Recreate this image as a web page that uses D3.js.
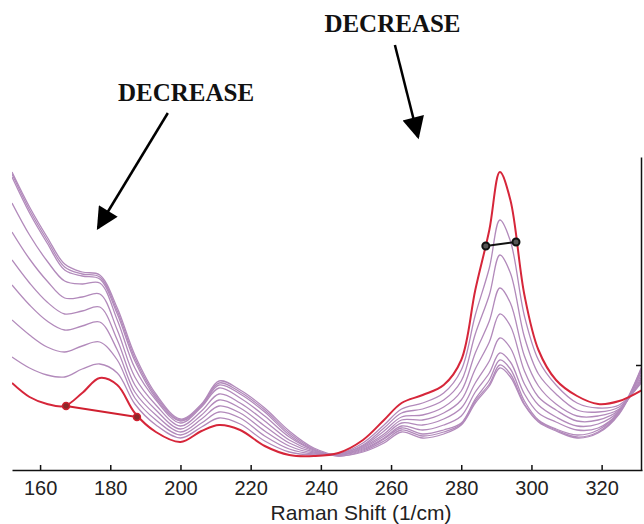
<!DOCTYPE html>
<html>
<head>
<meta charset="utf-8">
<script src="https://cdn.jsdelivr.net/npm/d3@7"></script>
<style>
  body { margin: 0; background: #fff; }
  .axis text { font-family: "Liberation Sans", Arial, sans-serif; font-size: 20px; fill: #222; }
  .axis path, .axis line { stroke: #111; stroke-width: 1.5; }
</style>
</head>
<body>
<svg id="chart" width="644" height="524"></svg>
<script>
// Raman shift grid (1/cm) the spectra were read at
var shifts = [152, 157, 162, 167, 172, 177, 182, 187, 193, 200, 206, 211, 217, 224, 231, 238, 245,
              252, 258, 263, 269, 275, 280, 284, 288, 291, 294, 298, 302, 307, 313, 319, 325, 331.5];

// intensities (a.u.) - red reference spectrum
var refSpectrum = [87, 73, 66, 64, 77, 92, 85, 57, 38, 28, 39, 45, 40, 24, 15, 14, 17,
                   30, 50, 67, 75, 85, 110, 180, 240, 298, 270, 175, 120, 90, 74, 66, 69, 80];

// purple spectra, from highest 290 peak to lowest
var spec1 = [113, 102, 95, 93, 101, 106, 97, 66, 45, 32, 43, 52, 46, 29, 18, 15, 16,
             27, 45, 61, 67, 77, 100, 155, 202, 250, 229, 154, 110, 85, 67, 62, 65, 88];
var spec2 = [150, 135, 123, 118, 124, 128, 110, 72, 50, 35, 47, 58, 52, 34, 21, 16, 16,
             25, 42, 57, 61, 70, 89, 136, 175, 215, 197, 133, 96, 76, 60, 58, 63, 90];
var spec3 = [185, 165, 149, 140, 144, 148, 120, 78, 55, 38, 51, 64, 57, 39, 24, 17, 16,
             24, 39, 53, 55, 63, 79, 117, 149, 182, 167, 114, 84, 66, 54, 54, 61, 92];
var spec4 = [210, 187, 168, 156, 159, 163, 130, 85, 60, 41, 55, 70, 62, 44, 27, 18, 15,
             23, 36, 50, 50, 57, 70, 101, 128, 156, 144, 99, 73, 60, 49, 50, 60, 94];
var spec5 = [238, 211, 189, 172, 173, 176, 140, 93, 65, 44, 59, 76, 67, 49, 30, 19, 15,
             22, 34, 47, 45, 51, 62, 87, 109, 132, 122, 86, 65, 53, 44, 46, 59, 97];
var spec6 = [267, 235, 209, 189, 186, 187, 150, 102, 70, 47, 63, 82, 72, 54, 33, 20, 15,
             21, 32, 44, 40, 45, 54, 78, 97, 117, 108, 76, 57, 48, 40, 42, 58, 100];
var spec7 = [298, 263, 233, 206, 198, 195, 162, 115, 76, 51, 66, 89, 80, 62, 39, 22, 15,
             20, 31, 42, 36, 40, 47, 71, 90, 110, 101, 69, 50, 41, 35, 40, 58, 104];
var spec8 = [296, 260, 230, 203, 196, 193, 159, 112, 74, 50, 65, 87, 78, 60, 37, 21, 14,
             19, 29, 40, 34, 38, 46, 69, 86, 105, 96, 66, 49, 40, 33, 38, 57, 103];
var spec9 = [293, 257, 227, 200, 194, 191, 156, 109, 72, 49, 64, 85, 76, 58, 35, 20, 14,
             18, 27, 38, 32, 36, 45, 67, 84, 102, 93, 65, 48, 39, 32, 37, 56, 102];

// marker pairs [shift, intensity]
var baselinePts = [[167.4, 64], [187.6, 53]];
var halfWidthPts = [[287.0, 224], [295.6, 228]];

var xTicks = [160, 180, 200, 220, 240, 260, 280, 300, 320];
var yTicks = [105];
var xLabel = "Raman Shift (1/cm)";
var noteText = "DECREASE";

var purpleSpectra = [spec9, spec8, spec7, spec6, spec5, spec4, spec3, spec2, spec1];

var svg = d3.select("#chart");

var x = d3.scaleLinear().domain([152, 331.5]).range([12, 642]);
var y = d3.scaleLinear().domain([0, 313]).range([470, 157]);

svg.append("defs").append("clipPath")
    .attr("id", "plot-clip")
    .append("rect")
    .attr("x", 12).attr("y", 140)
    .attr("width", 630).attr("height", 331);

var line = d3.line()
    .x(function (d, i) { return x(shifts[i]); })
    .y(function (d) { return y(d); })
    .curve(d3.curveCatmullRom.alpha(0.5));

var plot = svg.append("g").attr("clip-path", "url(#plot-clip)");

plot.selectAll(".spec")
    .data(purpleSpectra)
    .enter().append("path")
    .attr("class", "spec")
    .attr("d", line)
    .attr("fill", "none")
    .attr("stroke", "#b28abb")
    .attr("stroke-width", 1.3);

plot.append("path")
    .attr("d", line(refSpectrum))
    .attr("fill", "none")
    .attr("stroke", "#d6263a")
    .attr("stroke-width", 2);

// baseline marker pair (red)
var pairLine = d3.line()
    .x(function (d) { return x(d[0]); })
    .y(function (d) { return y(d[1]); });

plot.append("path")
    .attr("d", pairLine(baselinePts))
    .attr("fill", "none")
    .attr("stroke", "#d02030")
    .attr("stroke-width", 2);

plot.selectAll(".bmark")
    .data(baselinePts)
    .enter().append("circle")
    .attr("cx", function (d) { return x(d[0]); })
    .attr("cy", function (d) { return y(d[1]); })
    .attr("r", 3.5)
    .attr("fill", "#8a2a2a")
    .attr("stroke", "#d02030")
    .attr("stroke-width", 1.5);

// half width marker pair (black)
plot.append("path")
    .attr("d", pairLine(halfWidthPts))
    .attr("fill", "none")
    .attr("stroke", "#111")
    .attr("stroke-width", 2);

plot.selectAll(".hmark")
    .data(halfWidthPts)
    .enter().append("circle")
    .attr("cx", function (d) { return x(d[0]); })
    .attr("cy", function (d) { return y(d[1]); })
    .attr("r", 3.5)
    .attr("fill", "#555")
    .attr("stroke", "#111")
    .attr("stroke-width", 2);

// axes
svg.append("g")
    .attr("class", "axis")
    .attr("transform", "translate(0,470)")
    .call(d3.axisBottom(x).tickValues(xTicks).tickSizeInner(-5).tickSizeOuter(0).tickPadding(11));

svg.append("g")
    .attr("class", "axis")
    .attr("transform", "translate(641,0)")
    .call(d3.axisLeft(y).tickValues(yTicks).tickSizeInner(5).tickSizeOuter(0).tickFormat(""));

svg.append("text")
    .attr("x", 361)
    .attr("y", 520)
    .attr("text-anchor", "middle")
    .style("font-family", "'Liberation Sans', Arial, sans-serif")
    .style("font-size", "21px")
    .style("fill", "#222")
    .text(xLabel);

// annotations, placed in data units
svg.select("defs").append("marker")
    .attr("id", "head")
    .attr("viewBox", "0 0 10 10")
    .attr("refX", 9)
    .attr("refY", 5)
    .attr("markerUnits", "userSpaceOnUse")
    .attr("markerWidth", 24)
    .attr("markerHeight", 22)
    .attr("orient", "auto")
    .append("path")
    .attr("d", "M0,0L10,5L0,10z")
    .attr("fill", "#000");

var notes = [
    { at: [201.6, 369], from: [196.4, 357], to: [176.5, 242] },
    { at: [260.4, 438], from: [261.1, 425], to: [267.7, 333] }
];

notes.forEach(function (n) {
    svg.append("text")
        .attr("x", x(n.at[0]))
        .attr("y", y(n.at[1]))
        .attr("text-anchor", "middle")
        .style("font-family", "'Liberation Serif', 'Times New Roman', serif")
        .style("font-weight", "bold")
        .style("font-size", "25px")
        .style("fill", "#111")
        .text(noteText);
    svg.append("line")
        .attr("x1", x(n.from[0])).attr("y1", y(n.from[1]))
        .attr("x2", x(n.to[0])).attr("y2", y(n.to[1]))
        .attr("stroke", "#000")
        .attr("stroke-width", 2.5)
        .attr("marker-end", "url(#head)");
});
</script>
</body>
</html>
